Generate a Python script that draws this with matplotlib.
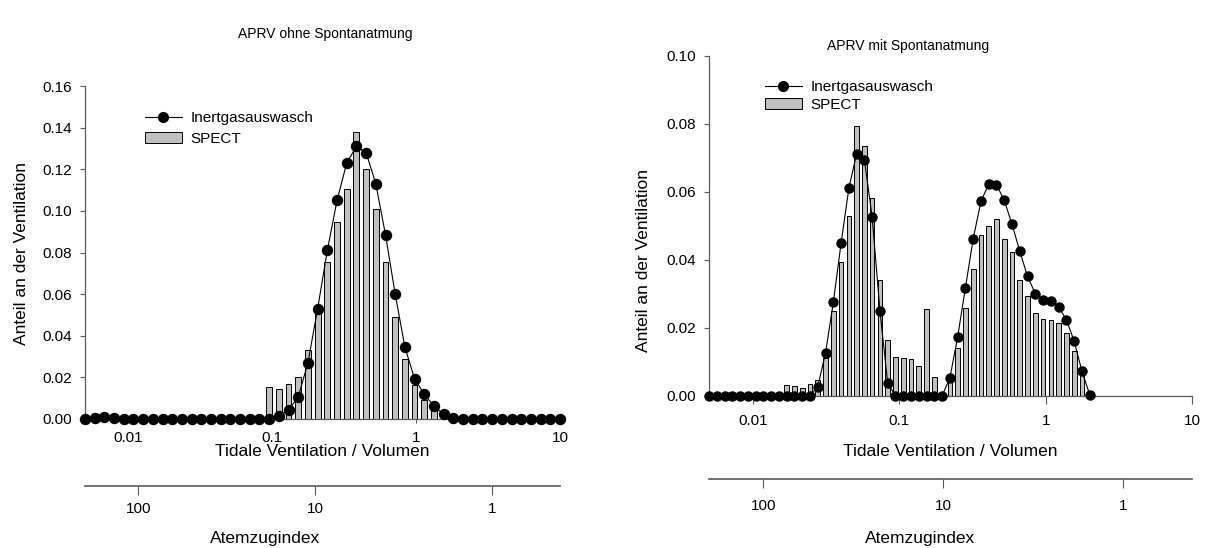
import numpy as np
import matplotlib
matplotlib.use("Agg")
import matplotlib.pyplot as plt
from matplotlib.lines import Line2D
from matplotlib.patches import Rectangle

plt.rcParams["font.family"] = ["Liberation Sans", "DejaVu Sans"]

# V/Q compartments (log spaced), left panel 0.005..10, right panel 0.005..2
x_left = [0.005, 0.00584, 0.00682, 0.00796, 0.0093, 0.01086, 0.01268, 0.01481, 0.0173, 0.0202,
          0.02359, 0.02754, 0.03217, 0.03756, 0.04387, 0.05123, 0.05983, 0.06987, 0.08159, 0.09526,
          0.1112, 0.1299, 0.1517, 0.1771, 0.2069, 0.2416, 0.2821, 0.3295, 0.3847, 0.4493,
          0.5248, 0.6128, 0.7157, 0.8358, 0.9759, 1.140, 1.331, 1.554, 1.815, 2.120,
          2.475, 2.891, 3.376, 3.942, 4.604, 5.376, 6.280, 7.333, 8.564, 10.0]
x_right = [0.005, 0.00565, 0.006385, 0.007216, 0.008154, 0.009215, 0.01041, 0.01177, 0.0133, 0.01503,
           0.01698, 0.01919, 0.02169, 0.02451, 0.0277, 0.0313, 0.03537, 0.03997, 0.04517, 0.05104,
           0.05768, 0.06518, 0.07366, 0.08324, 0.09406, 0.1063, 0.1201, 0.1357, 0.1534, 0.1734,
           0.1959, 0.2214, 0.2502, 0.2827, 0.3195, 0.3611, 0.408, 0.4611, 0.521, 0.5888,
           0.6653, 0.7519, 0.8497, 0.9603, 1.085, 1.226, 1.386, 1.566, 1.77, 2.0]

# APRV ohne Spontanatmung
inert_left = [0, 0.0003, 0.0008, 0.0004, 0.0002, 0, 0, 0, 0, 0,
              0, 0, 0, 0, 0, 0, 0, 0, 0, 0,
              0.0014, 0.0044, 0.0105, 0.027, 0.053, 0.081, 0.105, 0.123, 0.131, 0.128,
              0.113, 0.0885, 0.060, 0.0345, 0.0194, 0.0118, 0.0062, 0.0022, 0.0004, 0,
              0, 0, 0, 0, 0, 0, 0, 0, 0, 0]
spect_left = [0, 0, 0, 0, 0, 0, 0, 0, 0, 0,
              0, 0, 0, 0, 0, 0, 0, 0, 0, 0.0152,
              0.0146, 0.0167, 0.0204, 0.0332, 0.0508, 0.0756, 0.0946, 0.1106, 0.1378, 0.120,
              0.101, 0.0756, 0.0492, 0.0288, 0.0162, 0.0091, 0.0042, 0, 0, 0,
              0, 0, 0, 0, 0, 0, 0, 0, 0, 0]

# APRV mit Spontanatmung
inert_right = [0, 0, 0, 0, 0, 0, 0, 0, 0, 0,
               0, 0, 0, 0, 0.0027, 0.0126, 0.0275, 0.0449, 0.0611, 0.0712,
               0.0695, 0.0525, 0.025, 0.0037, 0, 0, 0, 0, 0, 0,
               0, 0.0052, 0.0173, 0.0317, 0.0462, 0.0572, 0.0623, 0.0621, 0.0575, 0.0505,
               0.0425, 0.0351, 0.030, 0.0283, 0.0278, 0.0261, 0.0224, 0.016, 0.0072, 0.0003]
spect_right = [0, 0, 0, 0, 0, 0, 0, 0, 0, 0,
               0.0032, 0.0029, 0.0022, 0.0034, 0.0047, 0.011, 0.0248, 0.0394, 0.053, 0.0795,
               0.0735, 0.0582, 0.0342, 0.0164, 0.0113, 0.0111, 0.0107, 0.0086, 0.0256, 0.0056,
               0, 0.004, 0.014, 0.0258, 0.0373, 0.0472, 0.050, 0.052, 0.0462, 0.0423,
               0.0342, 0.0294, 0.0243, 0.0227, 0.0222, 0.0215, 0.0184, 0.0133, 0.0062, 0]

x_ticks = [0.01, 0.1, 1, 10]
x_ticklabels = ["0.01", "0.1", "1", "10"]
index_ticks = [100, 10, 1]
index_ticklabels = ["100", "10", "1"]

BAR_FILL = "#c0c0c0"
AXIS_GRAY = "#5a5a5a"

W, H = 1208, 548


def box(l, t, r, b):
    return [l / W, 1 - b / H, (r - l) / W, (b - t) / H]


def draw_panel(ax, x, inert, spect, ymax, ms, tick_len, tick_pad):
    x = np.asarray(x)
    spect = np.asarray(spect)
    hw = 0.3 * np.log10(x[1] / x[0])
    keep = spect > 0
    xl = x[keep] * 10 ** (-hw)
    ax.bar(xl, spect[keep], width=x[keep] * (10 ** hw - 10 ** (-hw)), align="edge",
           color=BAR_FILL, edgecolor="black", linewidth=0.7, zorder=2)
    ax.plot(x, inert, color="black", lw=0.8, marker="o", ms=ms, zorder=3, clip_on=False)
    ax.set_xscale("log")
    ax.set_xlim(0.005, 10)
    ax.set_ylim(0, ymax)
    ax.set_xticks(x_ticks)
    ax.set_xticklabels(x_ticklabels)
    ax.xaxis.set_minor_locator(matplotlib.ticker.NullLocator())
    ax.set_yticks(np.arange(0, ymax + 0.001, 0.02))
    ax.set_yticklabels([f"{v:.2f}" for v in np.arange(0, ymax + 0.001, 0.02)])
    for s in ("top", "right"):
        ax.spines[s].set_visible(False)
    for s in ("left", "bottom"):
        ax.spines[s].set_color(AXIS_GRAY)
        ax.spines[s].set_linewidth(0.9)
    ax.tick_params(axis="x", length=tick_len, pad=tick_pad, labelsize=11, color=AXIS_GRAY)
    ax.tick_params(axis="y", length=3.5, pad=5.8, labelsize=11, color=AXIS_GRAY)


def draw_index_axis(fig, rect, pad):
    ax = fig.add_axes(rect)
    ax.set_xscale("log")
    ax.set_xlim(200, 0.415)
    ax.set_xticks(index_ticks)
    ax.set_xticklabels(index_ticklabels)
    ax.xaxis.set_minor_locator(matplotlib.ticker.NullLocator())
    ax.set_yticks([])
    for s in ("top", "right", "left"):
        ax.spines[s].set_visible(False)
    ax.spines["bottom"].set_color(AXIS_GRAY)
    ax.spines["bottom"].set_linewidth(1.2)
    ax.tick_params(axis="x", length=6.5, pad=pad, labelsize=11, color=AXIS_GRAY)
    ax.patch.set_visible(False)


def legend(ax, anchor, spacing):
    handles = [Line2D([], [], color="black", lw=0.8, marker="o", ms=7),
               Rectangle((0, 0), 1, 1, facecolor=BAR_FILL, edgecolor="black", linewidth=0.7)]
    ax.legend(handles, ["Inertgasauswasch", "SPECT"], loc="upper left",
              bbox_to_anchor=anchor, bbox_transform=ax.figure.transFigure,
              frameon=False, fontsize=11, handlelength=2.4, handleheight=0.65,
              handletextpad=0.6, borderpad=0, borderaxespad=0, labelspacing=spacing)


fig = plt.figure(figsize=(W / 100, H / 100), dpi=100)

ax1 = fig.add_axes(box(85, 86, 560, 419))
draw_panel(ax1, x_left, inert_left, spect_left, 0.16, 7.2, 3, 6)
legend(ax1, (145 / W, 1 - 111 / H), 0.45)
draw_index_axis(fig, box(85, 485, 560, 486), 5)

ax2 = fig.add_axes(box(709, 56, 1192, 395.7))
draw_panel(ax2, x_right, inert_right, spect_right, 0.10, 6.5, 5.8, 7.5)
legend(ax2, (765 / W, 1 - 80 / H), 0.25)
draw_index_axis(fig, box(709, 478.3, 1192, 479.3), 8)

txt = dict(ha="center", va="center", fontsize=12.5)
fig.text(325 / W, 1 - 34 / H, "APRV ohne Spontanatmung", ha="center", va="center", fontsize=10)
fig.text(908 / W, 1 - 46 / H, "APRV mit Spontanatmung", ha="center", va="center", fontsize=10)
fig.text(322 / W, 1 - 452 / H, "Tidale Ventilation / Volumen", **txt)
fig.text(950 / W, 1 - 452 / H, "Tidale Ventilation / Volumen", **txt)
fig.text(265 / W, 1 - 538 / H, "Atemzugindex", **txt)
fig.text(920 / W, 1 - 538 / H, "Atemzugindex", **txt)
fig.text(22 / W, 1 - 253 / H, "Anteil an der Ventilation", rotation=90, **txt)
fig.text(643 / W, 1 - 260 / H, "Anteil an der Ventilation", rotation=90, **txt)

fig.savefig("out.png", dpi=100)
